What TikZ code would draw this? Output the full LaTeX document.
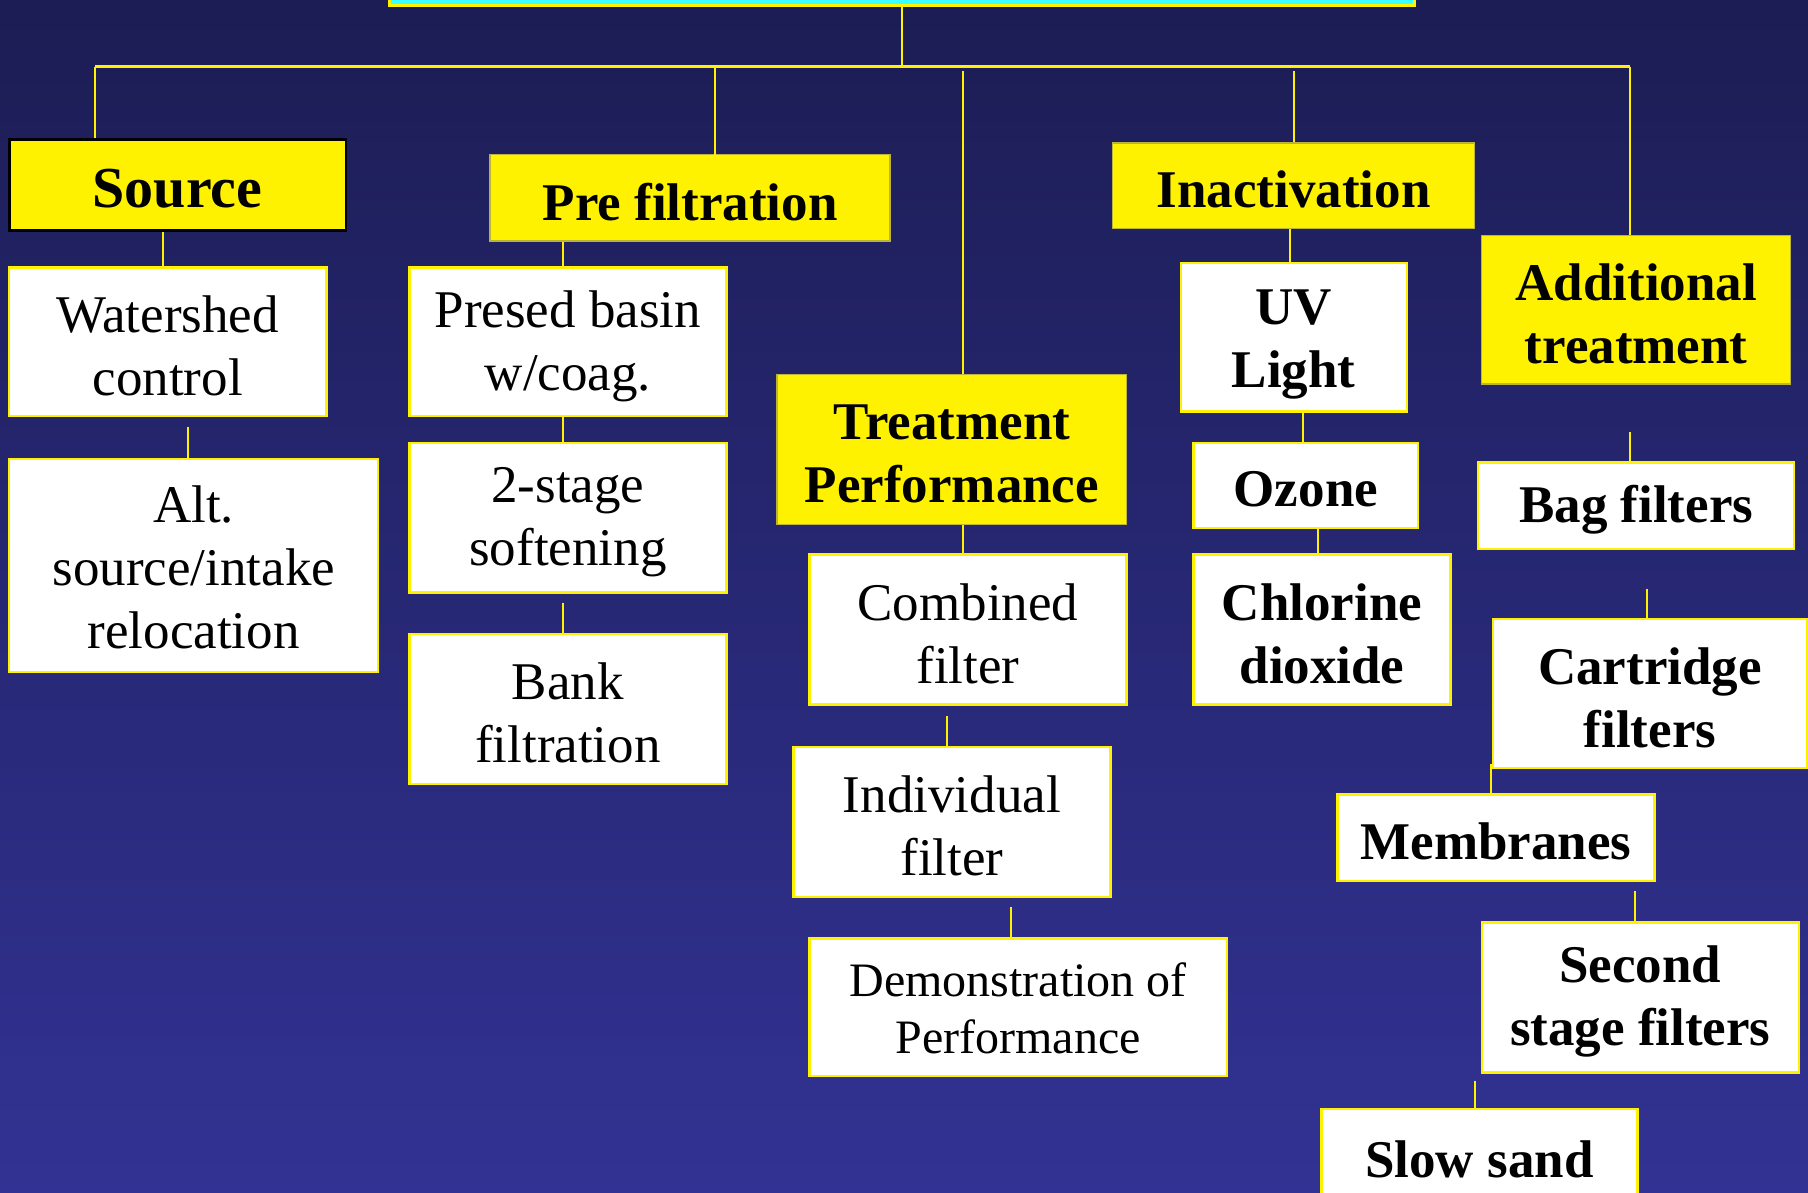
\documentclass[tikz,border=0pt]{standalone}
\usepackage{fontspec}
\setmainfont{Liberation Serif}
\definecolor{bgtop}{RGB}{28,29,84}
\definecolor{bgbot}{RGB}{50,50,148}
\definecolor{hlcyan}{RGB}{60,255,255}
% box from (x1,y1) to (x2,y2): name, x1, y1, x2, y2, frame style, text style, text
\newcommand\boxat[8]{%
  \node[#6, minimum width={(#4-#2)*1.15306pt}, minimum height={(#5-#3)*1.15306pt}] (#1) at ({(#2+#4)/2},{(#3+#5)/2}) {};
  \node[label, #7] at ([yshift=-4pt]#1.center) {#8};}
\begin{document}
\begin{tikzpicture}[x=1.15306pt,y=-1.15306pt,
  link/.style={draw=yellow, line width=2pt},
  box/.style={rectangle, inner sep=0pt},
  label/.style={inner sep=0pt, align=center, font=\fontsize{53}{63}\selectfont},
  head/.style={box, fill=yellow, draw=yellow!70!black, line width=1.4pt},
  plain/.style={box, fill=white, draw=yellow, line width=2.4pt},
  bold/.style={font=\bfseries\fontsize{53}{63}\selectfont},
]
\useasboundingbox (0,0) rectangle (1568,1034);
\clip (0,0) rectangle (1568,1034);
\fill[top color=bgtop, bottom color=bgbot] (0,0) rectangle (1568,1034);

% title bar (mostly above the page)
\node[box, fill=hlcyan, draw=yellow, line width=3pt, minimum width={889*1.15306pt},
  minimum height={35*1.15306pt}] (top) at (782.5,-12.5) {};

% main branches
\boxat{src}{8}{121}{300}{200}{head, draw=black, line width=2.6pt}{font=\bfseries\fontsize{58}{66}\selectfont}{Source}
\boxat{pre}{425}{134}{772}{209}{head}{bold}{Pre filtration}
\boxat{tp}{674}{325}{977}{455}{head}{bold}{Treatment\\Performance}
\boxat{inact}{965}{124}{1279}{198}{head}{bold}{Inactivation}
\boxat{add}{1285}{204}{1553}{333}{head}{bold}{Additional\\treatment}

% source
\boxat{ws}{8}{232}{283}{361}{plain}{}{Watershed\\control}
\boxat{alt}{8}{398}{328}{583}{plain}{yshift=2pt}{Alt.\\source/intake\\relocation}

% pre filtration
\boxat{psb}{355}{232}{630}{361}{plain}{}{Presed basin\\w/coag.}
\boxat{soft}{355}{384}{630}{514}{plain}{}{2-stage\\softening}
\boxat{bank}{355}{550}{630}{680}{plain}{}{Bank\\filtration}

% treatment performance
\boxat{comb}{702}{481}{977}{611}{plain}{}{Combined\\filter}
\boxat{ind}{688}{648}{963}{778}{plain}{}{Individual\\filter}
\boxat{demo}{702}{814}{1064}{933}{plain}{font=\fontsize{48}{57}\selectfont, yshift=3pt}{Demonstration of\\Performance}

% inactivation
\boxat{uv}{1024}{228}{1220}{357}{plain}{bold, yshift=-3pt}{UV\\Light}
\boxat{oz}{1035}{384}{1230}{458}{plain}{bold}{Ozone}
\boxat{cl}{1035}{481}{1258}{611}{plain}{bold}{Chlorine\\dioxide}

% additional treatment
\boxat{bag}{1282}{401}{1556}{476}{plain}{bold}{Bag filters}
\boxat{cart}{1295}{537}{1567}{666}{plain}{bold}{Cartridge\\filters}
\boxat{mem}{1160}{689}{1435}{764}{plain}{bold}{Membranes}
\boxat{sec}{1285}{800}{1560}{930}{plain}{bold}{Second\\stage filters}
\boxat{slow}{1146}{962}{1420}{1042}{plain}{bold}{Slow sand}

% trunk and bar
\coordinate (hl) at (82,58);
\coordinate (hr) at (1414,58);
\draw[link] (top.south -| 782,0) -- (782,58);
\draw[link, line width=3pt] (hl) -- (hr);

% drops to the main branches
\draw[link] (hl) -- (src.north -| hl);
\draw[link] (hl -| 620,0) -- ([yshift=-2pt]pre.north -| 620,0);
\draw[link, shorten <=4pt] (hl -| 835,0) -- (tp.north -| 835,0);
\draw[link, shorten <=4pt] (hl -| 1122,0) -- (inact.north -| 1122,0);
\draw[link] (hr) -- (add.north -| hr);

% source chain
\draw[link] (src.south -| 141,0) -- (ws.north -| 141,0);
\draw[link, shorten <=10pt] (ws.south -| 163,0) -- (alt.north -| 163,0);

% pre filtration chain
\draw[link] (pre.south -| 488,0) -- (psb.north -| 488,0);
\draw[link] (psb.south -| 488,0) -- (soft.north -| 488,0);
\draw[link, shorten <=9pt] (soft.south -| 488,0) -- (bank.north -| 488,0);

% treatment performance chain
\draw[link] (tp.south -| 835,0) -- (comb.north -| 835,0);
\draw[link, shorten <=10pt] (comb.south -| 821,0) -- (ind.north -| 821,0);
\draw[link, shorten <=9pt] (ind.south -| 877,0) -- (demo.north -| 877,0);

% inactivation chain
\draw[link] (inact.south -| 1119,0) -- (uv.north -| 1119,0);
\draw[link] (uv.south -| 1130,0) -- (oz.north -| 1130,0);
\draw[link] (oz.south -| 1143,0) -- (cl.north -| 1143,0);

% additional treatment chain
\draw[link, shorten <=47pt] (add.south -| 1414,0) -- (bag.north -| 1414,0);
\draw[link, shorten <=39pt] (bag.south -| 1428,0) -- (cart.north -| 1428,0);
\draw[link, shorten <=-5pt] (cart.south -| 1293,0) -- (mem.north -| 1293,0);
\draw[link, shorten <=9pt] (mem.south -| 1418,0) -- (sec.north -| 1418,0);
\draw[link, shorten <=7pt] (sec.south -| 1279,0) -- (slow.north -| 1279,0);
\end{tikzpicture}
\end{document}
